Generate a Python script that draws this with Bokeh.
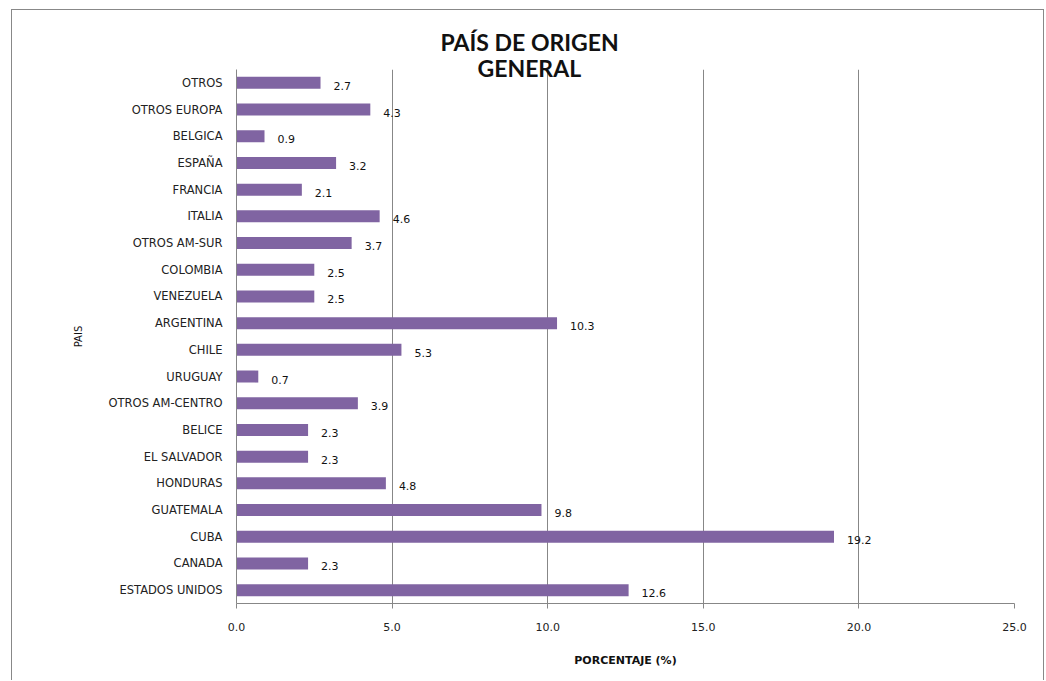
from bokeh.plotting import figure
from bokeh.models import (ColumnDataSource, Range1d, FixedTicker, NumeralTickFormatter,
                          LabelSet, Title)
from bokeh.core.properties import value
from bokeh.embed import file_html
from bokeh.resources import INLINE

categories = ["OTROS", "OTROS EUROPA", "BELGICA", "ESPAÑA", "FRANCIA", "ITALIA",
              "OTROS AM-SUR", "COLOMBIA", "VENEZUELA", "ARGENTINA", "CHILE", "URUGUAY",
              "OTROS AM-CENTRO", "BELICE", "EL SALVADOR", "HONDURAS", "GUATEMALA",
              "CUBA", "CANADA", "ESTADOS UNIDOS"]
values = [2.7, 4.3, 0.9, 3.2, 2.1, 4.6, 3.7, 2.5, 2.5, 10.3, 5.3, 0.7,
          3.9, 2.3, 2.3, 4.8, 9.8, 19.2, 2.3, 12.6]
x_ticks = [0, 5, 10, 15, 20, 25]
title_lines = ["PAÍS DE ORIGEN", "GENERAL"]

n = len(categories)
y_pos = [n - 1 - i for i in range(n)]
value_labels = ["%.1f" % v for v in values]
source = ColumnDataSource(dict(y=y_pos, val=values, lab=value_labels))

# layout (page pixels)
MX, MY = 11, 9                 # outer border position
OX, OY = MX + 1, MY + 1        # content origin
W, H = 1046 - MX - 2, 681 - MY - 1
F_LEFT, F_RIGHT, F_TOP, F_BOTTOM = 236 - OX, 1014 - OX, 69 - OY, 603 - OY

p = figure(width=W, height=H, output_backend="svg", toolbar_location=None,
           x_range=Range1d(0, x_ticks[-1]), y_range=Range1d(-0.5, n - 0.5),
           min_border_left=F_LEFT, min_border_right=W - F_RIGHT,
           min_border_top=F_TOP, min_border_bottom=H - F_BOTTOM)
p.margin = (MY, 0, 0, MX)
p.styles = {"border-left": "1px solid #888888", "border-top": "1px solid #888888",
            "border-right": "1px solid #888888"}

p.hbar(y="y", right="val", left=0, height=0.45, source=source,
       fill_color="#8064A2", line_color=None)

p.add_layout(LabelSet(x="val", y="y", text="lab", source=source, x_offset=13, y_offset=-3,
                      text_baseline="middle", text_align="left",
                      text_font=value("DejaVu Sans"),
                      text_font_size="11px", text_color="#111111"))

# title: two lines, centred on page x = 528.5 (left-aligned titles with offsets)
title_center_from_frame = 528.5 - 236
approx_widths = {title_lines[0]: 177, title_lines[1]: 103}
p.add_layout(Title(text=title_lines[1], align="left",
                   offset=title_center_from_frame - approx_widths[title_lines[1]] / 2,
                   standoff=-25, text_font="Lato", text_font_style="bold",
                   text_font_size="23px", text_color="#111111"), "above")
p.add_layout(Title(text=title_lines[0], align="left",
                   offset=title_center_from_frame - approx_widths[title_lines[0]] / 2,
                   standoff=18, text_font="Lato", text_font_style="bold",
                   text_font_size="23px", text_color="#111111"), "above")

p.outline_line_color = None
p.ygrid.grid_line_color = None
p.xgrid.ticker = FixedTicker(ticks=x_ticks)
p.xgrid.grid_line_color = "#878787"
p.xgrid.grid_line_alpha = 1.0

xa = p.xaxis[0]
xa.ticker = FixedTicker(ticks=x_ticks)
xa.formatter = NumeralTickFormatter(format="0.0")
xa.axis_line_color = "#878787"
xa.major_tick_line_color = "#878787"
xa.major_tick_out = 5
xa.major_tick_in = 0
xa.minor_tick_line_color = None
xa.major_label_standoff = 14
xa.major_label_text_font = "DejaVu Sans"
xa.major_label_text_font_size = "11px"
xa.major_label_text_color = "#222222"
xa.axis_label = "PORCENTAJE (%)"
xa.axis_label_text_font = "DejaVu Sans"
xa.axis_label_text_font_size = "11px"
xa.axis_label_text_font_style = "bold"
xa.axis_label_text_color = "#111111"
xa.axis_label_standoff = 20

ya = p.yaxis[0]
ya.ticker = FixedTicker(ticks=y_pos)
ya.major_label_overrides = {yp: c for yp, c in zip(y_pos, categories)}
ya.axis_line_color = "#878787"
ya.major_tick_line_color = None
ya.major_tick_out = 0
ya.major_tick_in = 0
ya.minor_tick_line_color = None
ya.major_label_standoff = 14
ya.major_label_text_font = "DejaVu Sans"
ya.major_label_text_font_size = "11.5px"
ya.major_label_text_color = "#222222"
ya.axis_label = "PAIS"
ya.axis_label_text_font = "DejaVu Sans"
ya.axis_label_text_font_size = "10px"
ya.axis_label_text_font_style = "normal"
ya.axis_label_text_color = "#111111"
ya.axis_label_standoff = 22

open("out.html", "w").write(file_html(p, INLINE))
